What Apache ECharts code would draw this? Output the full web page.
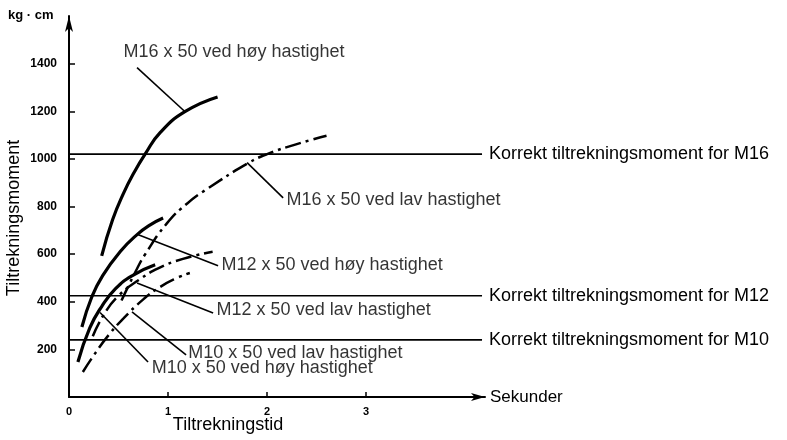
<!DOCTYPE html>
<html>
<head>
<meta charset="utf-8">
<script src="https://cdn.jsdelivr.net/npm/echarts@6/dist/echarts.min.js"></script>
<style>
  html, body { margin: 0; padding: 0; background: #fff; }
  #chart { width: 787px; height: 440px; }
</style>
</head>
<body>
<div id="chart"></div>
<script>
// curves: [seconds, kg*cm]
const m16Hoy = [[0.33, 593], [0.44, 744], [0.55, 855], [0.66, 945], [0.77, 1021], [0.92, 1110], [1.17, 1198], [1.5, 1260]];
const m16Lav = [[0.53, 405], [0.67, 525], [0.77, 600], [0.99, 730], [1.2, 815], [1.4, 875], [1.8, 980], [2.0, 1020], [2.3, 1062], [2.6, 1097]];
const m12Hoy = [[0.13, 294], [0.23, 420], [0.34, 510], [0.52, 612], [0.69, 683], [0.82, 723], [0.95, 752]];
const m12Lav = [[0.24, 255], [0.35, 345], [0.5, 425], [0.7, 490], [0.9, 540], [1.15, 580], [1.45, 610]];
const m10Hoy = [[0.09, 147], [0.21, 290], [0.33, 380], [0.47, 455], [0.64, 510], [0.87, 555]];
const m10Lav = [[0.14, 105], [0.25, 175], [0.4, 260], [0.55, 330], [0.75, 410], [0.92, 462], [1.09, 500], [1.22, 521]];

// correct tightening torque
const refM16 = 1020;
const refM12 = 425;
const refM10 = 240;

const xTicks = [0, 1, 2, 3];
const yTicks = [200, 400, 600, 800, 1000, 1200, 1400];

// leader line from the curve to the label, label anchor (left edge, middle)
const notes = [
  { text: "M16 x 50 ved høy hastighet", from: [1.172, 1198], to: [0.687, 1383], at: [0.545, 1450] },
  { text: "M16 x 50 ved lav hastighet", from: [1.798, 984], to: [2.162, 836], at: [2.19, 828] },
  { text: "M12 x 50 ved høy hastighet", from: [0.687, 683], to: [1.505, 551], at: [1.535, 555] },
  { text: "M12 x 50 ved lav hastighet", from: [0.687, 479], to: [1.455, 353], at: [1.485, 366] },
  { text: "M10 x 50 ved lav hastighet", from: [0.636, 357], to: [1.182, 177], at: [1.2, 185] },
  { text: "M10 x 50 ved høy hastighet", from: [0.313, 355], to: [0.798, 147], at: [0.83, 122] }
];

const FONT = "Liberation Sans";
const dashDot = [16, 5, 3, 5];

function curve(data, dashed) {
  return {
    type: "line",
    data: data,
    smooth: true,
    showSymbol: false,
    silent: true,
    lineStyle: { color: "#000", width: dashed ? 2.5 : 3.2, type: dashed ? dashDot : "solid" },
  };
}

function refLine(v, text) {
  return {
    type: "line",
    data: [[0, v], [4.17, v]],
    showSymbol: false,
    silent: true,
    lineStyle: { color: "#000", width: 1.6 },
    endLabel: {
      show: true,
      formatter: text,
      distance: 7,
      color: "#000",
      fontFamily: FONT,
      fontSize: 18,
    },
  };
}

const series = [
  curve(m16Hoy, false),
  curve(m16Lav, true),
  curve(m12Hoy, false),
  curve(m12Lav, true),
  curve(m10Hoy, false),
  curve(m10Lav, true),
  refLine(refM16, "Korrekt tiltrekningsmoment for M16"),
  refLine(refM12, "Korrekt tiltrekningsmoment for M12"),
  refLine(refM10, "Korrekt tiltrekningsmoment for M10"),
];

notes.forEach(function (n) {
  series.push({
    type: "line",
    data: [n.from, n.to],
    showSymbol: false,
    silent: true,
    lineStyle: { color: "#000", width: 1.6 },
  });
});

series.push({
  type: "scatter",
  clip: false,
  silent: true,
  symbolSize: 1,
  itemStyle: { color: "rgba(0,0,0,0)" },
  data: notes.map(function (n) { return { value: n.at, name: n.text }; }),
  label: {
    show: true,
    position: "right",
    distance: 0,
    formatter: "{b}",
    color: "#000",
    fontFamily: FONT,
    fontSize: 18,
  },
});

const chart = echarts.init(document.getElementById("chart"));
chart.setOption({
  animation: false,
  backgroundColor: "#fff",
  grid: { left: 69, top: 16, width: 416, height: 381, containLabel: false, outerBoundsMode: "none" },
  xAxis: {
    type: "value",
    min: 0,
    max: 4.2,
    name: "Sekunder",
    nameLocation: "end",
    nameGap: 5,
    nameTextStyle: { color: "#000", fontFamily: FONT, fontSize: 17 },
    splitLine: { show: false },
    axisLine: { lineStyle: { color: "#000", width: 2 }, symbol: ["none", "arrow"], symbolSize: [6, 14] },
    axisTick: { inside: true, length: 5, lineStyle: { color: "#000", width: 1.5 }, customValues: [1, 2, 3] },
    axisLabel: {
      color: "#000", fontFamily: FONT, fontWeight: "bold", fontSize: 11, margin: 9,
      customValues: xTicks, formatter: function (v) { return String(v); },
    },
  },
  yAxis: {
    type: "value",
    min: 0,
    max: 1600,
    splitLine: { show: false },
    axisLine: { lineStyle: { color: "#000", width: 2 }, symbol: ["none", "arrow"], symbolSize: [6, 16] },
    axisTick: { inside: true, length: 6, lineStyle: { color: "#000", width: 1.5 }, customValues: yTicks },
    axisLabel: {
      color: "#000", fontFamily: FONT, fontWeight: "bold", fontSize: 12, margin: 12,
      customValues: yTicks, formatter: function (v) { return String(v); },
    },
  },
  graphic: [
    {
      type: "text", left: 8, top: 9,
      style: { text: "kg · cm", fill: "#000", font: "bold 13px 'Liberation Sans'" },
    },
    {
      type: "text", x: 14, y: 218, rotation: Math.PI / 2,
      style: { text: "Tiltrekningsmoment", fill: "#000", font: "18px 'Liberation Sans'", align: "center", verticalAlign: "middle" },
    },
    {
      type: "text", x: 228, y: 425,
      style: { text: "Tiltrekningstid", fill: "#000", font: "18px 'Liberation Sans'", align: "center", verticalAlign: "middle" },
    },
  ],
  series: series,
});
</script>
</body>
</html>
